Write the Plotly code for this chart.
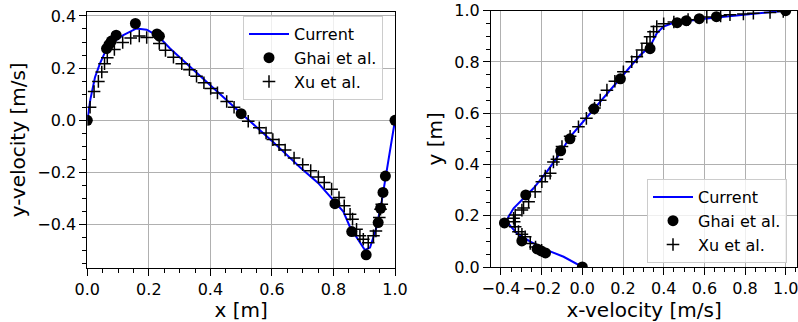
import plotly.graph_objects as go

# ---------------- data: horizontal centerline (v vs x) ----------------
cur_h_x = [0, 0.01, 0.025, 0.041, 0.058, 0.085, 0.117, 0.16, 0.193, 0.231, 0.269, 0.334,
           0.41, 0.496, 0.6, 0.692, 0.75, 0.80, 0.832, 0.854, 0.886, 0.902, 0.919, 0.94,
           0.957, 0.973, 0.984, 1.0]
cur_h_v = [0, 0.08, 0.165, 0.217, 0.262, 0.30, 0.326, 0.352, 0.347, 0.322, 0.275, 0.204,
           0.121, 0.031, -0.079, -0.181, -0.24, -0.305, -0.350, -0.410, -0.470, -0.497,
           -0.488, -0.41, -0.309, -0.193, -0.117, 0]

ghia_h_x = [1.0000, 0.9688, 0.9609, 0.9531, 0.9453, 0.9063, 0.8594, 0.8047, 0.5000,
            0.2344, 0.2266, 0.1563, 0.0938, 0.0781, 0.0703, 0.0625, 0.0000]
ghia_h_v = [0.00000, -0.21388, -0.27669, -0.33714, -0.39188, -0.51550, -0.42665, -0.31966,
            0.02526, 0.32235, 0.33075, 0.37095, 0.32627, 0.30353, 0.29012, 0.27485, 0.00000]

xu_h_x = [0.009, 0.022, 0.036, 0.047, 0.056, 0.065, 0.088, 0.115, 0.141, 0.169, 0.193,
          0.234, 0.254, 0.280, 0.307, 0.332, 0.355, 0.379, 0.401, 0.423, 0.453, 0.477,
          0.523, 0.559, 0.581, 0.603, 0.623, 0.643, 0.672, 0.700, 0.726, 0.751, 0.770,
          0.794, 0.818, 0.835, 0.854, 0.862, 0.875, 0.886, 0.897, 0.913, 0.930, 0.938,
          0.949, 0.953, 0.957]
xu_h_v = [0.05, 0.110, 0.149, 0.185, 0.217, 0.240, 0.271, 0.298, 0.315, 0.323, 0.317,
          0.294, 0.268, 0.242, 0.217, 0.194, 0.169, 0.144, 0.122, 0.105, 0.072, 0.05,
          -0.004, -0.029, -0.049, -0.074, -0.094, -0.114, -0.145, -0.170, -0.193, -0.217,
          -0.238, -0.264, -0.296, -0.328, -0.360, -0.379, -0.418, -0.443, -0.456, -0.469,
          -0.443, -0.424, -0.373, -0.341, -0.322]

# ---------------- data: vertical centerline (u vs y) ----------------
cur_v_u = [0, -0.092, -0.174, -0.256, -0.321, -0.354, -0.37, -0.363, -0.338, -0.297, -0.24,
           -0.174, -0.109, -0.06, 0.055, 0.186, 0.285, 0.333, 0.366, 0.399, 0.448, 0.612,
           0.775, 0.939, 1.0]
cur_v_y = [0, 0.04, 0.066, 0.099, 0.131, 0.160, 0.18, 0.196, 0.229, 0.261, 0.307, 0.372,
           0.444, 0.508, 0.613, 0.736, 0.827, 0.86, 0.912, 0.938, 0.953, 0.97, 0.983,
           0.994, 1.0]

ghia_v_y = [1.0000, 0.9766, 0.9688, 0.9609, 0.9531, 0.8516, 0.7344, 0.6172, 0.5000,
            0.4531, 0.2813, 0.1719, 0.1016, 0.0703, 0.0625, 0.0547, 0.0000]
ghia_v_u = [1.00000, 0.65928, 0.57492, 0.51117, 0.46604, 0.33304, 0.18719, 0.05702,
            -0.06080, -0.10648, -0.27805, -0.38289, -0.29730, -0.22220, -0.20196,
            -0.18109, 0.00000]

xu_v_u = [-0.20, -0.23, -0.256, -0.281, -0.297, -0.314, -0.33, -0.335, -0.338, -0.33,
          -0.297, -0.289, -0.264, -0.232, -0.199, -0.182, -0.158, -0.142, -0.125, -0.10,
          -0.06, -0.019, 0.02, 0.06, 0.088, 0.121, 0.16, 0.202, 0.243, 0.268, 0.293, 0.317,
          0.333, 0.35, 0.366, 0.40, 0.45, 0.52, 0.612, 0.68, 0.726, 0.792, 0.841, 0.923, 0.988]
xu_v_y = [0.065, 0.078, 0.092, 0.118, 0.128, 0.138, 0.157, 0.177, 0.19, 0.203, 0.222,
          0.23, 0.255, 0.294, 0.333, 0.355, 0.366, 0.41, 0.42, 0.47, 0.51, 0.547, 0.58,
          0.62, 0.651, 0.69, 0.725, 0.762, 0.801, 0.82, 0.847, 0.873, 0.898, 0.918, 0.938,
          0.949, 0.956, 0.965, 0.975, 0.98, 0.984, 0.987, 0.99, 0.993, 0.997]

xticks_left = [0.0, 0.2, 0.4, 0.6, 0.8, 1.0]
yticks_left = [-0.4, -0.2, 0.0, 0.2, 0.4]
xticks_right = [-0.4, -0.2, 0.0, 0.2, 0.4, 0.6, 0.8, 1.0]
yticks_right = [0.0, 0.2, 0.4, 0.6, 0.8, 1.0]

FONT = "DejaVu Sans"
BLUE = "#0000ff"

fig = go.Figure()

def add_set(cx, cy, gx, gy, xx, xy, xa, ya, leg):
    fig.add_trace(go.Scatter(x=cx, y=cy, mode="lines", name="Current",
                             line=dict(color=BLUE, width=2),
                             xaxis=xa, yaxis=ya, legend=leg))
    fig.add_trace(go.Scatter(x=gx, y=gy, mode="markers", name="Ghai et al.",
                             marker=dict(color="black", size=11, symbol="circle"),
                             xaxis=xa, yaxis=ya, legend=leg))
    fig.add_trace(go.Scatter(x=xx, y=xy, mode="markers", name="Xu et al.",
                             marker=dict(color="black", size=9, symbol="cross-thin",
                                         line=dict(color="black", width=1.5)),
                             xaxis=xa, yaxis=ya, legend=leg))

add_set(cur_h_x, cur_h_v, ghia_h_x, ghia_h_v, xu_h_x, xu_h_v, "x", "y", "legend")
add_set(cur_v_u, cur_v_y, ghia_v_u, ghia_v_y, xu_v_u, xu_v_y, "x2", "y2", "legend2")

W, H = 798, 322

def px_x(p):
    return p / W

def px_y(p):
    return 1 - p / H

def axis(domain, rng, ticks, minor, title, anchor, standoff):
    return dict(domain=domain, range=rng, tickvals=ticks, tickformat=".1f",
                automargin=False, tickangle=0, ticklabeloverflow="allow",
                showline=True, mirror=True, linecolor="black", linewidth=1,
                ticks="outside", ticklen=7, tickwidth=1, tickcolor="black",
                showgrid=True, gridcolor="#b0b0b0", gridwidth=1, zeroline=False,
                minor=dict(ticks="outside", ticklen=4, tickwidth=1, tickcolor="black",
                           dtick=minor, showgrid=False),
                tickfont=dict(family=FONT, size=16, color="black"),
                title=dict(text=title, font=dict(family=FONT, size=20, color="black"),
                           standoff=standoff),
                anchor=anchor)

legend_style = dict(bgcolor="rgba(255,255,255,0.8)", bordercolor="#cccccc", borderwidth=1,
                    font=dict(family=FONT, size=16, color="black"),
                    xanchor="left", yanchor="top", tracegroupgap=0, itemwidth=40)

fig.update_layout(
    width=W, height=H, margin=dict(l=0, r=0, t=0, b=0),
    paper_bgcolor="white", plot_bgcolor="white", showlegend=True,
    xaxis=axis([px_x(87.3), px_x(395)], [0, 1.0], xticks_left, 0.05, "x [m]", "y", 4),
    yaxis=axis([px_y(267.7), px_y(12)], [-0.565, 0.415], yticks_left, 0.05,
               "y-velocity [m/s]", "x", 6),
    xaxis2=axis([px_x(491), px_x(797.3)], [-0.449, 1.057], xticks_right, 0.05,
                "x-velocity [m/s]", "y2", 4),
    yaxis2=axis([px_y(267), px_y(10.7)], [0, 1.0], yticks_right, 0.05, "y [m]", "x2", 6),
    legend=dict(x=px_x(243), y=px_y(16), **legend_style),
    legend2=dict(x=px_x(647), y=px_y(179), **legend_style),
)

fig.write_html("out.html",
               config={"displayModeBar": False},
               post_script="document.body.style.margin='0px';"
                           "document.body.style.overflow='hidden';")
